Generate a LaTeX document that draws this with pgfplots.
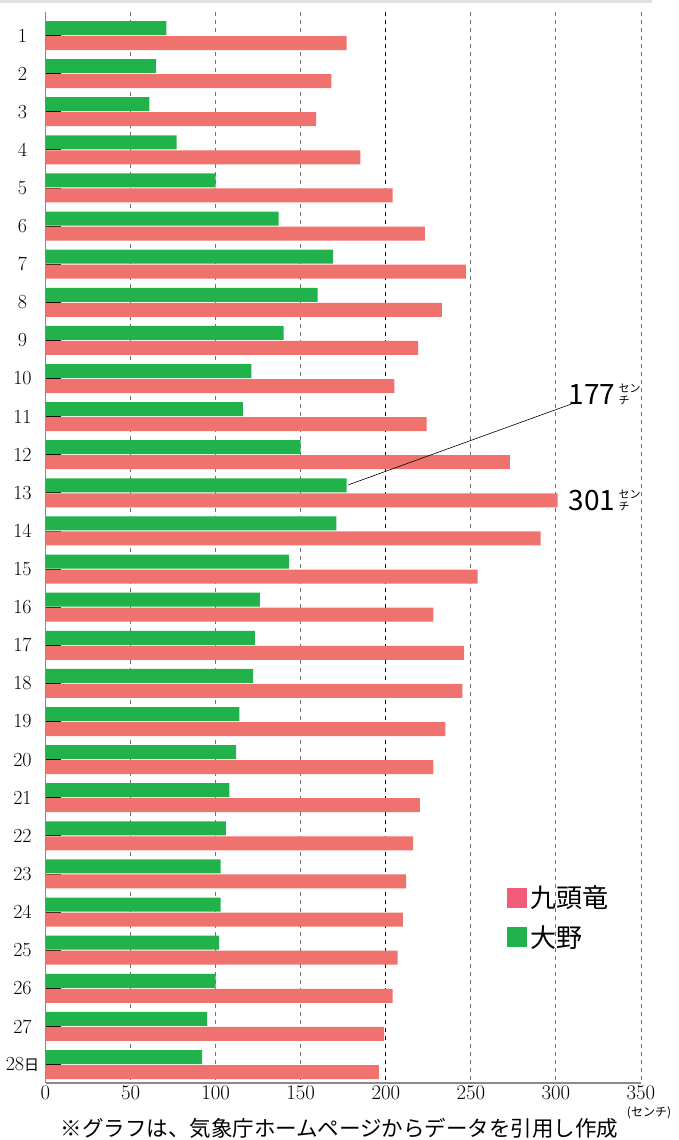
\documentclass[border=0pt]{standalone}
\usepackage{fontspec}
\usepackage{pgfplots}
\usepackage{pgfplotstable}
\pgfplotsset{compat=1.18}
\newfontfamily\jp{Noto Sans CJK JP}
\definecolor{grn}{HTML}{22B24C}
\definecolor{red1}{HTML}{F0726E}
\definecolor{redleg}{HTML}{F25C78}
\definecolor{gridc}{HTML}{707070}
\definecolor{axc}{HTML}{8A8A8A}
\pgfplotstableread{
day ono kuzu
1 71 177
2 65 168
3 61 159
4 77 185
5 100 204
6 137 223
7 169 247
8 160 233
9 140 219
10 121 205
11 116 224
12 150 273
13 177 301
14 171 291
15 143 254
16 126 228
17 123 246
18 122 245
19 114 235
20 112 228
21 108 220
22 106 216
23 103 212
24 103 210
25 102 207
26 100 204
27 95 199
28 92 196
}\datatable
\begin{document}
\begin{tikzpicture}[x=1pt,y=1pt]
\fill[black!12] (0,0) rectangle (652,-3.5);
\begin{axis}[
  at={(45.5pt,-1083pt)}, anchor=south west,
  scale only axis, width=595.5pt, height=1071pt,
  xmin=0, xmax=350, ymin=0.383, ymax=28.486, y dir=reverse,
  xbar, bar width=14pt,
  axis x line*=bottom, axis y line*=left,
  axis line style={axc, line width=1.1pt},
  xtick={0,50,100,150,250,300,350},
  extra x ticks={200},
  extra x tick style={grid style={black, line width=0.9pt, dash pattern=on 4pt off 4pt}},
  xmajorgrids,
  grid style={gridc, line width=0.9pt, dash pattern=on 4pt off 4pt},
  xtick style={draw=none},
  ytick={1,...,28},
  yticklabels={1,2,3,4,5,6,7,8,9,10,11,12,13,14,15,16,17,18,19,20,21,22,23,24,25,26,27,{28{\jp\fontsize{15}{15}\selectfont 日}}},
  ytick style={black, line width=0.9pt},
  tick align=inside,
  major tick length=15pt,
  yticklabel style={anchor=center, xshift=-23pt, font=\fontsize{20}{20}\selectfont},
  xticklabel style={font=\fontsize{20}{20}\selectfont},
  legend image code/.code={\fill[#1] (0pt,-10pt) rectangle (20pt,10pt);},
  legend style={at={(0.775,0.186)}, anchor=north west, draw=none, fill=none, inner sep=0pt,
    font=\jp\fontsize{26}{26}\selectfont, row sep=12pt,
    nodes={inner xsep=3pt}},
  legend cell align=left,
]
\addplot[fill=grn, draw=none, bar shift=7.5pt, forget plot] table[x=ono, y=day]{\datatable};
\addplot[fill=red1, draw=none, bar shift=-7.5pt, forget plot] table[x=kuzu, y=day]{\datatable};
\addlegendimage{fill=redleg, draw=none}
\addlegendentry{九頭竜}
\addlegendimage{fill=grn, draw=none}
\addlegendentry{大野}
\draw[black, line width=0.6pt] ([yshift=8pt]axis cs:178,13) -- (axis cs:309,10.67);
\node[anchor=west, font=\jp\fontsize{28}{28}\selectfont, inner sep=0pt] at (axis cs:307.5,10.42)
  {177\hspace{3pt}\raisebox{0pt}{\fontsize{11}{12.5}\selectfont\shortstack[l]{セン\\チ}}};
\node[anchor=west, font=\jp\fontsize{28}{28}\selectfont, inner sep=0pt] at (axis cs:307.5,13.19)
  {301\hspace{3pt}\raisebox{0pt}{\fontsize{11}{12.5}\selectfont\shortstack[l]{セン\\チ}}};
\end{axis}
\node[font=\jp\fontsize{21.5}{21.5}\selectfont, inner sep=0pt] at (339.5,-1128.5) {※グラフは、気象庁ホームページからデータを引用し作成};
\node[font=\jp\fontsize{12}{12}\selectfont, inner sep=0pt] at (649,-1113) {(センチ)};
\pgfresetboundingbox
\useasboundingbox (0,0) rectangle (679,-1140);
\end{tikzpicture}
\end{document}
